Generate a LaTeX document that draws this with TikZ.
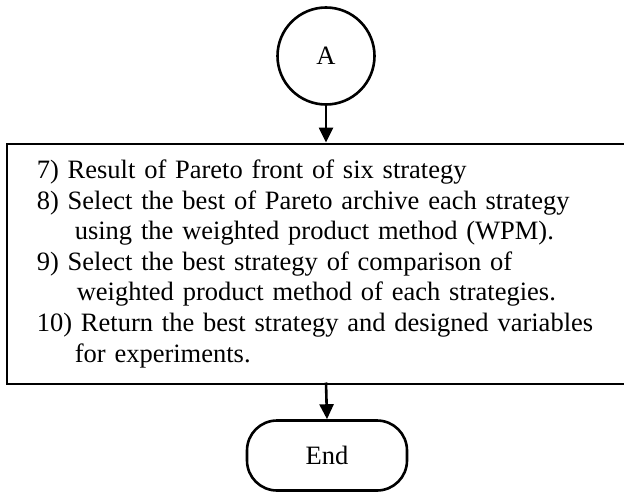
\documentclass[tikz,border=0pt]{standalone}
\usepackage{fontspec}
\setmainfont{Liberation Serif}
\usetikzlibrary{arrows.meta}
\begin{document}
\begin{tikzpicture}[x=1pt,y=-1pt,
  line width=2.6pt,
  every node/.style={font=\fontsize{26.5}{30.6}\selectfont},
  connector/.style={-{Triangle[length=15pt,width=14pt]},line width=2.6pt},
  terminal/.style={draw,circle,minimum size=97pt,inner sep=0pt},
  endbox/.style={draw,rectangle,rounded corners=30pt,minimum width=160pt,minimum height=70pt,inner sep=0pt},
  stepsbox/.style={draw,rectangle,anchor=north west,minimum width=700pt,minimum height=240pt,
    inner xsep=20pt,inner ysep=0pt,align=left,text width=640pt}]
\useasboundingbox (0,0) rectangle (624,495);
\clip (0,0) rectangle (624,495);
% connector symbol at the top
\node[terminal] (A) at (326,56) {A};
% process box; its right side runs past the edge of the page
\node[stepsbox] (steps) at (5.5,142.5) {%
7) Result of Pareto front of six strategy\\
8) Select the best of Pareto archive each strategy\\
\hspace*{38pt}using the weighted product method (WPM).\\
9) Select the best strategy of comparison of\\
\hspace*{40pt}weighted product method of each strategies.\\
10) Return the best strategy and designed variables\\
\hspace*{38pt}for experiments.};
\coordinate (stepsTop) at (326,142.5);
\coordinate (stepsBottom) at (326,382.5);
% terminator
\node[endbox] (end) at (327,455.5) {End};
\draw[connector] (A.south) -- (stepsTop);
\draw[connector] (stepsBottom) -- (end.north);
\end{tikzpicture}
\end{document}
